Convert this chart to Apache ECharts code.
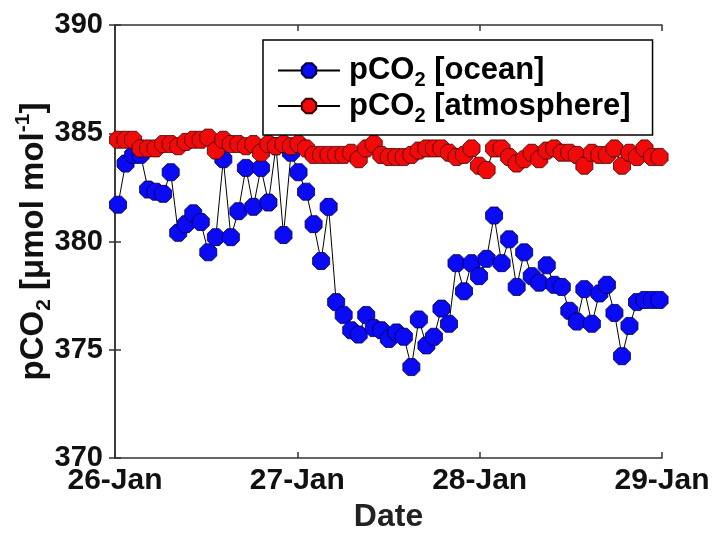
<!DOCTYPE html>
<html>
<head>
<meta charset="utf-8">
<script src="https://cdn.jsdelivr.net/npm/echarts@6/dist/echarts.min.js"></script>
<style>html,body{margin:0;padding:0;background:#fff;}#c{width:712px;height:533px;}</style>
</head>
<body>
<div id="c"></div>
<script>
// ---- data ----
const dayLabels = ['26-Jan', '27-Jan', '28-Jan', '29-Jan'];
const yTicks = [370, 375, 380, 385, 390];
const seriesNames = ['pCO2 [ocean]', 'pCO2 [atmosphere]'];
const sampleStartHour = 0.4;   // first sample, hours after 26-Jan 00:00
const sampleStepHour = 0.99;   // hourly sampling
const oceanCO2 = [381.7,383.6,384.0,384.0,382.4,382.3,382.2,383.2,380.4,380.8,
  381.3,380.9,379.5,380.2,383.8,380.2,381.4,383.4,381.6,383.4,
  381.8,384.4,380.3,384.1,383.2,382.3,380.8,379.1,381.6,377.2,
  376.6,375.9,375.7,376.6,376.0,375.9,375.5,375.8,375.6,374.2,
  376.4,375.2,375.6,376.9,376.2,379.0,377.7,379.0,378.4,379.2,
  381.2,379.0,380.1,377.9,379.5,378.4,378.1,378.9,378.0,377.9,
  376.8,376.3,377.8,376.2,377.6,378.0,376.7,374.7,376.1,377.2,
  377.3,377.3,377.3];
const atmosCO2 = [384.7,384.7,384.7,384.3,384.3,384.3,384.5,384.5,384.4,384.6,
  384.7,384.7,384.8,384.2,384.7,384.5,384.5,384.4,384.5,384.1,
  384.5,384.4,384.5,384.4,384.5,384.3,384.0,384.0,384.0,384.0,
  384.0,384.1,383.8,384.3,384.5,384.0,383.9,383.9,383.9,384.0,
  384.2,384.3,384.3,384.3,384.1,383.9,384.0,384.3,383.5,383.3,
  384.3,384.3,383.9,383.6,383.8,384.1,383.8,384.2,384.3,384.1,
  384.1,384.0,383.5,384.1,384.0,384.0,384.3,383.5,384.1,383.9,
  384.3,383.9,383.9];

// ---- build ----
const toPairs = arr => arr.map((v, i) => [sampleStartHour + i * sampleStepHour, v]);
const FONT = '"Liberation Sans", Arial, sans-serif';
const octagon = 'path://M-0.383,-0.924L0.383,-0.924L0.924,-0.383L0.924,0.383L0.383,0.924L-0.383,0.924L-0.924,0.383L-0.924,-0.383Z';
const dayFmt = v => { const i = Math.round(v / 24); return (Math.abs(v - i * 24) < 1e-6 && dayLabels[i]) ? dayLabels[i] : ''; };
const legendRich = {
  b: { fontFamily: FONT, fontWeight: 'bold', fontSize: 31, color: '#000', lineHeight: 40 },
  s: { fontFamily: FONT, fontWeight: 'bold', fontSize: 20, color: '#000', lineHeight: 20, verticalAlign: 'bottom' }
};
const legendFmt = name => {
  const m = name.match(/^pCO2(.*)$/);
  return m ? '{b|pCO}{s|2}{b|' + m[1] + '}' : '{b|' + name + '}';
};

const chart = echarts.init(document.getElementById('c'), null, { renderer: 'canvas' });
const axisLineStyle = { color: '#333', width: 1.5 };
chart.setOption({
  animation: false,
  backgroundColor: '#fff',
  textStyle: { fontFamily: FONT },
  grid: { left: 115, right: 50, top: 25, bottom: 75, show: false, containLabel: false, outerBoundsMode: 'none' },
  legend: {
    data: seriesNames,
    orient: 'vertical',
    left: 263, top: 40,
    padding: [15, 22, 9, 14],
    itemGap: 0,
    itemWidth: 62, itemHeight: 18,
    backgroundColor: '#fff',
    borderColor: '#000', borderWidth: 1.5, borderRadius: 0,
    formatter: legendFmt,
    textStyle: { rich: legendRich, padding: [0, 0, 0, 4] }
  },
  xAxis: [{
    type: 'value', min: 0, max: 72, interval: 24,
    name: 'Date', nameLocation: 'middle', nameGap: 43,
    nameTextStyle: { fontFamily: FONT, fontWeight: 'bold', fontSize: 32, color: '#222' },
    axisLine: { show: true, lineStyle: axisLineStyle },
    axisTick: { show: true, inside: true, length: 6, lineStyle: axisLineStyle },
    splitLine: { show: false },
    axisLabel: { formatter: dayFmt, fontFamily: FONT, fontWeight: 'bold', fontSize: 30, color: '#111', margin: 8, showMinLabel: true, showMaxLabel: true }
  }, {
    type: 'value', min: 0, max: 72, interval: 24, position: 'top',
    axisLine: { show: true, lineStyle: axisLineStyle },
    axisTick: { show: true, inside: true, length: 6, lineStyle: axisLineStyle },
    axisLabel: { show: false }, splitLine: { show: false }
  }],
  yAxis: [{
    type: 'value', min: yTicks[0], max: yTicks[yTicks.length - 1], interval: 5,
    name: '{b|pCO}{s|2}{b| [μmol mol}{p|-1}{b|]}',
    nameLocation: 'middle', nameGap: 60, nameRotate: 90,
    nameMoveOverlap: false,
    nameTextStyle: {
      rich: {
        b: { fontFamily: FONT, fontWeight: 'bold', fontSize: 33, color: '#111', lineHeight: 42 },
        s: { fontFamily: FONT, fontWeight: 'bold', fontSize: 21, color: '#111', lineHeight: 21, verticalAlign: 'bottom' },
        p: { fontFamily: FONT, fontWeight: 'bold', fontSize: 21, color: '#111', lineHeight: 21, verticalAlign: 'top' }
      }
    },
    axisLine: { show: true, lineStyle: axisLineStyle },
    axisTick: { show: true, inside: true, length: 6, lineStyle: axisLineStyle },
    splitLine: { show: false },
    axisLabel: { fontFamily: FONT, fontWeight: 'bold', fontSize: 29, color: '#111', margin: 12 }
  }, {
    type: 'value', min: yTicks[0], max: yTicks[yTicks.length - 1], interval: 5, position: 'right',
    axisLine: { show: true, lineStyle: axisLineStyle },
    axisTick: { show: true, inside: true, length: 6, lineStyle: axisLineStyle },
    axisLabel: { show: false }, splitLine: { show: false }
  }],
  series: [{
    name: seriesNames[0], type: 'line', data: toPairs(oceanCO2),
    symbol: octagon, symbolSize: 17, showAllSymbol: true,
    lineStyle: { color: '#000', width: 1 },
    itemStyle: { color: '#0a0af5', borderColor: '#00003a', borderWidth: 0.8 },
    z: 2
  }, {
    name: seriesNames[1], type: 'line', data: toPairs(atmosCO2),
    symbol: octagon, symbolSize: 17, showAllSymbol: true,
    lineStyle: { color: '#000', width: 1 },
    itemStyle: { color: '#f00a0a', borderColor: '#3a0000', borderWidth: 0.8 },
    z: 3
  }]
});
</script>
</body>
</html>
